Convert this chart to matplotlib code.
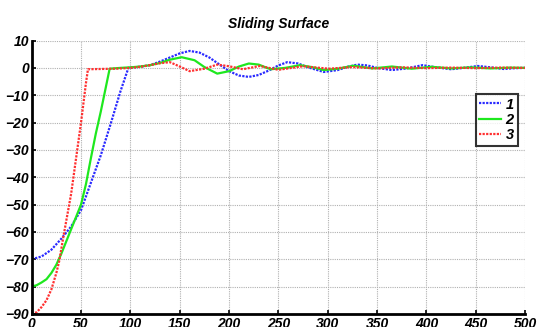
import matplotlib.pyplot as plt
import numpy as np

# series 1 (blue dotted)
x1 = [0, 10, 20, 30, 40, 50, 55, 60, 70, 80, 90, 98, 110, 120, 130, 140, 150, 160, 170, 180,
      190, 200, 210, 220, 230, 240, 250, 259, 270, 280, 296, 310, 320, 330, 340, 350, 365,
      380, 396, 410, 425, 440, 452, 465, 478, 490, 500]
y1 = [-70, -69, -66.5, -62.5, -58, -52, -47, -42, -32, -20.5, -8.5, 0, 0.4, 1, 2.3, 3.8, 5.3, 6.2, 5.6, 3.8,
      1.3, -1.2, -2.8, -3.3, -2.6, -1, 0.9, 2.1, 1.6, 0.2, -1.5, -0.8, 0.4, 1.2, 0.9, 0, -0.8,
      -0.2, 1, 0.2, -0.5, 0.1, 0.7, 0.2, -0.4, -0.1, 0]

# series 2 (green solid)
x2 = [0, 5, 10, 15, 20, 25, 30, 35, 40, 45, 50, 55, 60, 65, 70, 79, 90, 100, 110, 120, 130,
      140, 152, 165, 175, 188, 200, 210, 220, 230, 242, 257, 272, 285, 296, 310, 326, 345,
      365, 385, 405, 425, 445, 465, 485, 500]
y2 = [-80, -79.5, -78.5, -77.3, -75, -72, -68, -63.5, -59, -54.5, -50, -42.5, -33, -24, -16, -0.3, 0, 0.2, 0.5, 1, 1.8,
      3, 3.9, 2.8, 0.3, -2.1, -1.2, 0.5, 1.6, 1.2, -0.5, 0, 1, 0.2, -0.8, -0.3, 0.8, -0.2,
      0.5, -0.3, 0.4, -0.2, 0.2, -0.2, 0.1, 0]

# series 3 (red dotted)
x3 = [0, 5, 10, 15, 20, 25, 28, 32, 36, 40, 45, 50, 55, 57, 70, 85, 100, 110, 120, 130, 140,
      150, 160, 175, 188, 200, 214, 231, 250, 275, 301, 325, 350, 375, 400, 425, 450, 475, 500]
y3 = [-90, -89.4, -87.5, -85, -81, -75, -70.5, -62, -54, -46, -33, -20, -5.5, -0.5, -0.4, -0.3, 0, 0.4, 1, 1.7, 2.1,
      0.5, -1.2, -0.3, 1.2, 0.6, -0.5, 0.7, -0.7, 0.6, -0.3, 0.3, -0.2, 0.2, -0.1, 0.1, -0.1, 0.1, 0]

labels = ["1", "2", "3"]

plt.rcParams["font.family"] = ["Liberation Sans", "DejaVu Sans"]

fig = plt.figure(figsize=(5.37, 3.27), dpi=100)
ax = fig.add_axes([0.059, 0.04, 0.919, 0.836])

ax.plot(x1, y1, linestyle=(0, (1, 0.6)), color="#2a2aff", linewidth=1.6, label=labels[0])
ax.plot(x2, y2, linestyle="-", color="#1ee81e", linewidth=1.6, label=labels[1])
ax.plot(x3, y3, linestyle=(0, (1, 0.6)), color="#ff3030", linewidth=1.6, label=labels[2])

ax.set_xlim(0, 500)
ax.set_ylim(-90, 10)
ax.set_xticks(np.arange(0, 501, 50))
ax.set_yticks(np.arange(-90, 11, 10))
ax.grid(True, color="#b0b0b0", linestyle=(0, (1, 1)), linewidth=0.8)

for side in ["top", "right"]:
    ax.spines[side].set_visible(False)
for side in ["left", "bottom"]:
    ax.spines[side].set_linewidth(2)
ax.tick_params(direction="in", length=3, width=1.2, pad=2)
for lbl in ax.get_xticklabels() + ax.get_yticklabels():
    lbl.set_fontweight("bold")
    lbl.set_fontstyle("italic")
    lbl.set_fontsize(10)

ax.set_title("Sliding Surface", fontsize=10, fontweight="bold", fontstyle="italic", pad=9)

leg = ax.legend(loc="upper left", bbox_to_anchor=(0.9, 0.805), frameon=True, fancybox=False,
                handlelength=1.5, handletextpad=0.3, borderpad=0.25, labelspacing=0.1,
                borderaxespad=0, prop={"weight": "bold", "style": "italic", "size": 10.5})
leg.get_frame().set_edgecolor("black")
leg.get_frame().set_linewidth(1.5)

fig.savefig("out.png", dpi=100)
